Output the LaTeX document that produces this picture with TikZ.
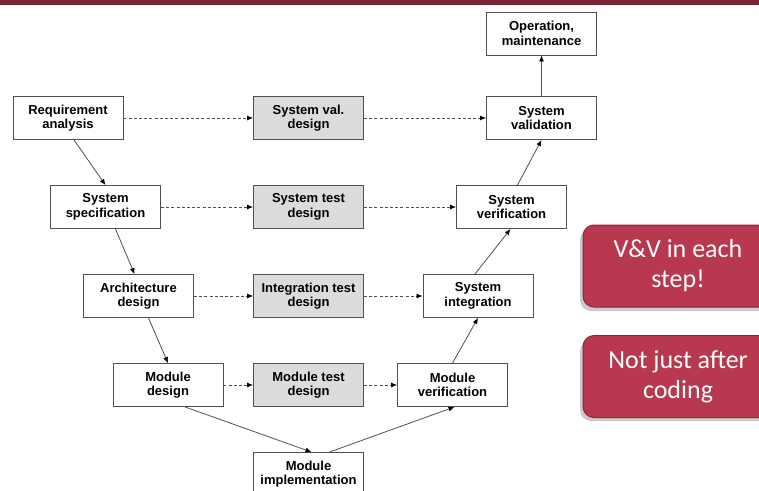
\documentclass[tikz,border=0pt]{standalone}
\usepackage{fontspec}
\setmainfont{Liberation Sans}
\newfontfamily\calib{Carlito}
\usetikzlibrary{arrows.meta}
\definecolor{barcol}{HTML}{7A2338}
\definecolor{callfill}{HTML}{B8384F}
\definecolor{calldraw}{HTML}{8C2539}
\definecolor{linecol}{HTML}{505050}
\definecolor{greyfill}{HTML}{DCDCDC}
\tikzset{
  box/.style={draw=linecol, line width=0.9pt, fill=white, minimum width=110pt, minimum height=43pt,
    inner sep=0pt, align=center, font=\fontsize{13}{14.5}\selectfont\bfseries},
  tbox/.style={box, fill=greyfill},
  arr/.style={draw=linecol, line width=0.8pt, -{Latex[length=6pt,width=5pt,color=black]}},
  darr/.style={arr, dash pattern=on 3pt off 2.2pt},
  callout/.style={draw=calldraw, line width=1pt, fill=callfill, rounded corners=11pt,
    minimum width=190pt, minimum height=82pt, inner sep=0pt, text=white, align=center,
    font=\calib\fontsize{26}{30}\selectfont},
}
\begin{document}
\begin{tikzpicture}[x=1pt,y=-1pt]
\useasboundingbox (0,0) rectangle (759,490);
\clip (0,0) rectangle (759,490);
\fill[barcol] (0,0) rectangle (759,5);
% left branch
\node[box] (req) at (68,118) {Requirement\\analysis};
\node[box] (spec) at (105.5,207) {System\\specification};
\node[box] (arch) at (138.5,296) {Architecture\\design};
\node[box] (mdes) at (168,385) {Module\\design};
% middle
\node[tbox] (svd) at (308.5,118) {System val.\\design};
\node[tbox] (std) at (308.5,207) {System test\\design};
\node[tbox] (itd) at (308.5,296) {Integration test\\design};
\node[tbox] (mtd) at (308.5,385) {Module test\\design};
\node[box] (impl) at (308.5,474) {Module\\implementation};
% right branch
\node[box] (mver) at (452.5,385) {Module\\verification};
\node[box] (sint) at (478,296) {System\\integration};
\node[box] (sver) at (511.5,207) {System\\verification};
\node[box] (sval) at (541.5,118) {System\\validation};
\node[box] (oper) at (541.5,33.5) {Operation,\\maintenance};
% solid arrows
\draw[arr] ([xshift=6pt]req.south) -- ([xshift=0pt]spec.north);
\draw[arr] ([xshift=10pt]spec.south) -- ([xshift=-4pt]arch.north);
\draw[arr] ([xshift=10pt]arch.south) -- (mdes.north);
\draw[arr] ([xshift=17pt]mdes.south) -- ([xshift=3pt]impl.north);
\draw[arr] ([xshift=21pt]impl.north) -- ([xshift=2pt]mver.south);
\draw[arr] (mver.north) -- (sint.south);
\draw[arr] ([xshift=-3pt]sint.north) -- ([xshift=-1pt]sver.south);
\draw[arr] ([xshift=6pt]sver.north) -- (sval.south);
\draw[arr] (sval.north) -- (oper.south);
% dashed arrows
\draw[darr] (req.east) -- (svd.west);
\draw[darr] (svd.east) -- (sval.west);
\draw[darr] (spec.east) -- (std.west);
\draw[darr] (std.east) -- (sver.west);
\draw[darr] (arch.east) -- (itd.west);
\draw[darr] (itd.east) -- (sint.west);
\draw[darr] (mdes.east) -- (mtd.west);
\draw[darr] (mtd.east) -- (mver.west);
% callouts with shadows
\fill[black!35, opacity=0.6, rounded corners=11pt] (580,229) rectangle (775,311);
\fill[black!35, opacity=0.6, rounded corners=11pt] (580,340) rectangle (775,421);
\node[callout] (cv) at (678,266) {V\&V in each\\step!};
\node[callout] (cn) at (678,376.5) {Not just after\\coding};
\end{tikzpicture}
\end{document}
